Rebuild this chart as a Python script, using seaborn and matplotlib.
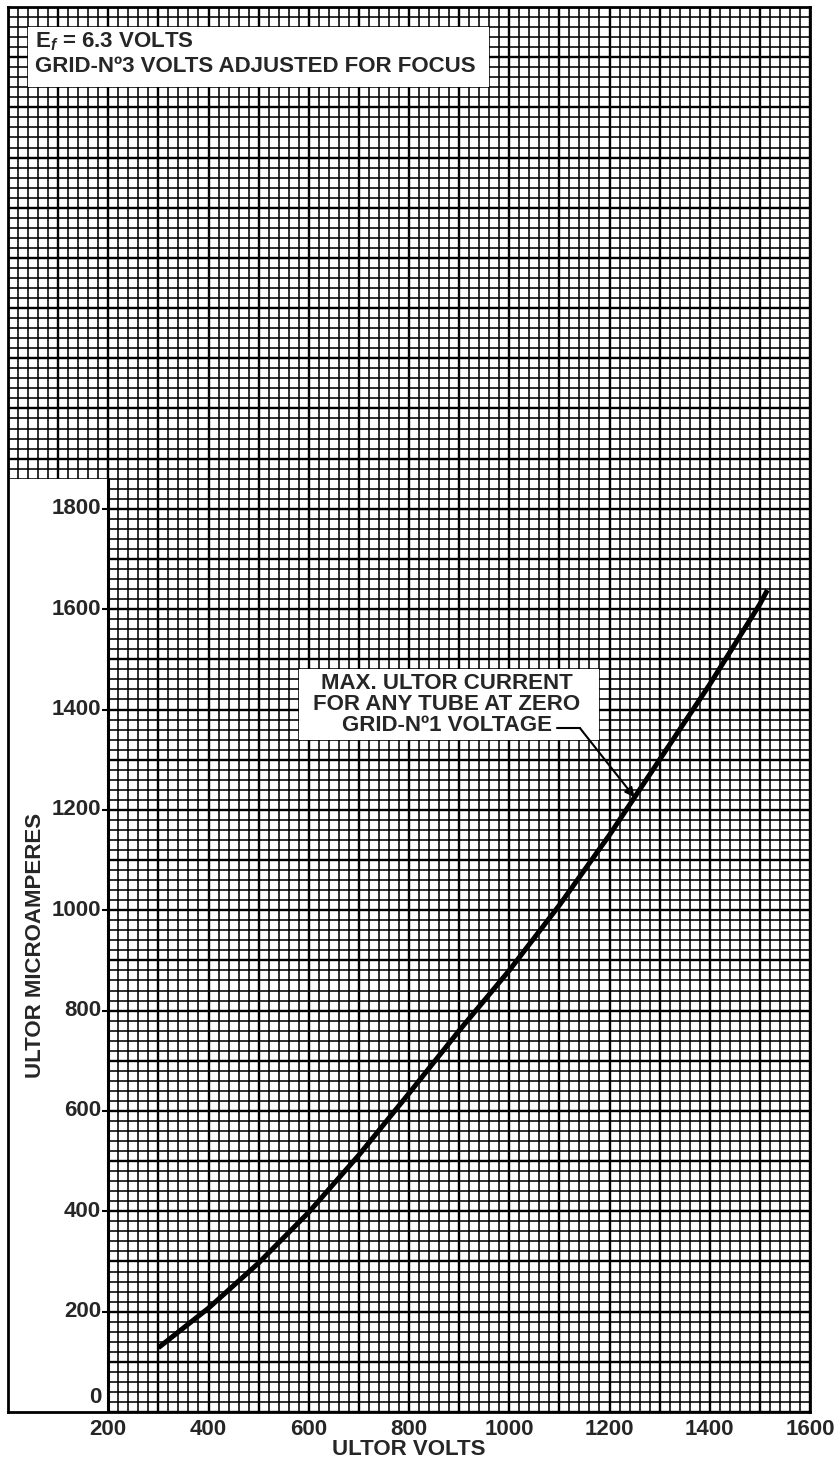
import numpy as np
import pandas as pd
import matplotlib
matplotlib.use("Agg")
import matplotlib.pyplot as plt
import seaborn as sns
from matplotlib.ticker import MultipleLocator, FuncFormatter
from matplotlib.patches import Rectangle

# curve
ultor_volts = [300, 400, 500, 600, 700, 800, 900, 1000, 1100, 1200, 1300, 1400, 1500, 1515]
ultor_microamps = [128, 207, 297, 398, 512, 635, 760, 880, 1010, 1150, 1300, 1450, 1610, 1638]

x_ticks = [200, 400, 600, 800, 1000, 1200, 1400, 1600]
y_ticks = [0, 200, 400, 600, 800, 1000, 1200, 1400, 1600, 1800]

df = pd.DataFrame({"volts": ultor_volts, "ua": ultor_microamps})

sns.set_theme(style="white")
plt.rcParams["font.family"] = ["Liberation Sans", "DejaVu Sans"]
plt.rcParams["font.weight"] = "bold"
plt.rcParams["mathtext.fontset"] = "custom"
plt.rcParams["mathtext.it"] = "Liberation Sans:italic:bold"
plt.rcParams["mathtext.rm"] = "Liberation Sans:bold"
FS = 16

fig = plt.figure(figsize=(8.4, 14.58), dpi=100)
ax = fig.add_axes([8 / 840, 46 / 1458, 802 / 840, 1405 / 1458])

ax.set_xlim(0, 1600)
ax.set_ylim(0, 2800)

# graph paper grid
ax.xaxis.set_major_locator(MultipleLocator(100))
ax.xaxis.set_minor_locator(MultipleLocator(20))
ax.yaxis.set_major_locator(MultipleLocator(100))
ax.yaxis.set_minor_locator(MultipleLocator(20))
ax.grid(which="major", color="black", lw=1.7)
ax.grid(which="minor", color="black", lw=1.15)
ax.set_axisbelow(True)

ax.xaxis.set_major_formatter(FuncFormatter(
    lambda v, p: f"{int(v)}" if int(v) in x_ticks else ""))
ax.tick_params(axis="x", which="both", length=0, pad=5, labelsize=FS)
ax.tick_params(axis="y", which="both", length=0, labelleft=False)
for s in ax.spines.values():
    s.set_color("black")
    s.set_linewidth(2)

# blank panel on the left holding the y labels
ax.add_patch(Rectangle((0, 0), 200, 1860, facecolor="white", edgecolor="none", zorder=2))
ax.plot([200, 200], [0, 1860], color="black", lw=2.2, zorder=4)
ax.hlines(y_ticks[1:], 188, 200, color="black", lw=1.5, zorder=4)
for v in y_ticks:
    if v == 0:
        ax.text(186, 8, f"{v}", ha="right", va="bottom", fontsize=FS, zorder=5)
    else:
        ax.text(186, v, f"{v}", ha="right", va="center", fontsize=FS, zorder=5)
ax.text(54, 930, "ULTOR MICROAMPERES", rotation=90, ha="center", va="center",
        fontsize=FS, zorder=5)
ax.set_xlabel("ULTOR VOLTS", fontsize=FS, fontweight="bold", labelpad=-1)

# curve
sns.lineplot(data=df, x="volts", y="ua", ax=ax, color="black", lw=3.6,
             zorder=6, solid_capstyle="butt")
ax.set_ylabel("")

# header box
ax.add_patch(Rectangle((40, 2640), 920, 120, facecolor="white", edgecolor="none", zorder=2))
ax.text(54, 2731, r"E$_f$ = 6.3 VOLTS", ha="left", va="center", fontsize=FS, zorder=5)
ax.text(54, 2681, "GRID-N\u00ba3 VOLTS ADJUSTED FOR FOCUS", ha="left", va="center",
        fontsize=FS, zorder=5)

# note on the curve
ax.add_patch(Rectangle((580, 1340), 600, 140, facecolor="white", edgecolor="none", zorder=2))
ax.text(875, 1410, "MAX. ULTOR CURRENT\nFOR ANY TUBE AT ZERO\nGRID-N\u00ba1 VOLTAGE",
        ha="center", va="center", fontsize=FS, linespacing=1.0, zorder=5)
tip_x = 1250
tip_y = np.interp(tip_x, ultor_volts, ultor_microamps)
ax.plot([1095, 1141], [1363, 1363], color="black", lw=1.5, zorder=5)
ax.annotate("", xy=(tip_x, tip_y), xytext=(1141, 1363),
            arrowprops=dict(arrowstyle="-|>", color="black", lw=1.5,
                            shrinkA=0, shrinkB=0, mutation_scale=14),
            zorder=5)

fig.savefig("out.png", dpi=100)
